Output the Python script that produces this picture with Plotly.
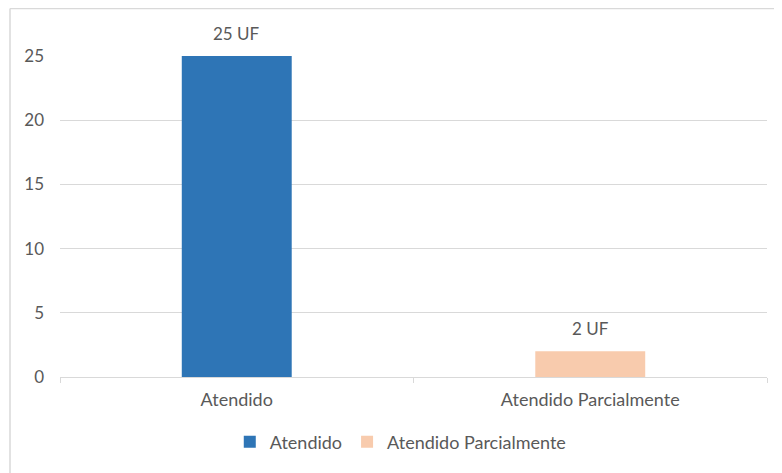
import plotly.graph_objects as go

categories = ["Atendido", "Atendido Parcialmente"]
values = [25, 2]
labels = ["25 UF", "2 UF"]
colors = ["#2E75B6", "#F8CBAD"]
y_ticks = [0, 5, 10, 15, 20, 25]

FONT = "Lato, 'Open Sans', sans-serif"
GRAY = "#595959"
GRID = "#D9D9D9"
FS = 18

# page has an 8px body margin; figure sized to fill the remaining window
W, H = 774, 465
L, R, T, B = 52, 15, 48, 96
PW, PH = W - L - R, H - T - B

fig = go.Figure()
for cat, val, col in zip(categories, values, colors):
    fig.add_trace(go.Bar(
        x=[cat], y=[val], name=cat, marker=dict(color=col, line=dict(width=0)),
        width=0.311, hoverinfo="x+y",
    ))

annotations = [
    dict(x=cat, y=val, text=lab, showarrow=False, yanchor="bottom", yshift=10,
         font=dict(family=FONT, size=17, color=GRAY))
    for cat, val, lab in zip(categories, values, labels)
]

fig.update_layout(
    width=W, height=H,
    margin=dict(l=L, r=R, t=T, b=B),
    paper_bgcolor="white", plot_bgcolor="white",
    barmode="overlay",
    font=dict(family=FONT, size=FS, color=GRAY),
    showlegend=True,
    legend=dict(orientation="h", x=0.482, xanchor="center", y=-65 / PH,
                yanchor="middle", font=dict(family=FONT, size=FS, color=GRAY),
                itemwidth=30, traceorder="normal"),
    xaxis=dict(type="category", range=[-0.5, 1.5], showline=True, linecolor=GRID,
               linewidth=1, ticks="outside", tickson="boundaries", ticklen=5,
               tickcolor=GRID, showgrid=False, ticklabelstandoff=6,
               tickfont=dict(family=FONT, size=FS, color=GRAY)),
    yaxis=dict(range=[0, 25], tickvals=y_ticks, showgrid=True, gridcolor=GRID,
               gridwidth=1, zeroline=False, showline=False, ticklabelstandoff=15,
               tickfont=dict(family=FONT, size=17, color=GRAY)),
    annotations=annotations,
    shapes=[
        dict(type="line", xref="paper", yref="paper",
             x0=-50 / PW, x1=1 + R / PW, y0=1 + (T - 0.5) / PH, y1=1 + (T - 0.5) / PH,
             line=dict(color=GRID, width=1.5)),
        dict(type="line", xref="paper", yref="paper",
             x0=-50 / PW, x1=-50 / PW, y0=1 + (T - 0.5) / PH, y1=-B / PH,
             line=dict(color=GRID, width=1.5)),
    ],
)

fig.write_html("out.html")
